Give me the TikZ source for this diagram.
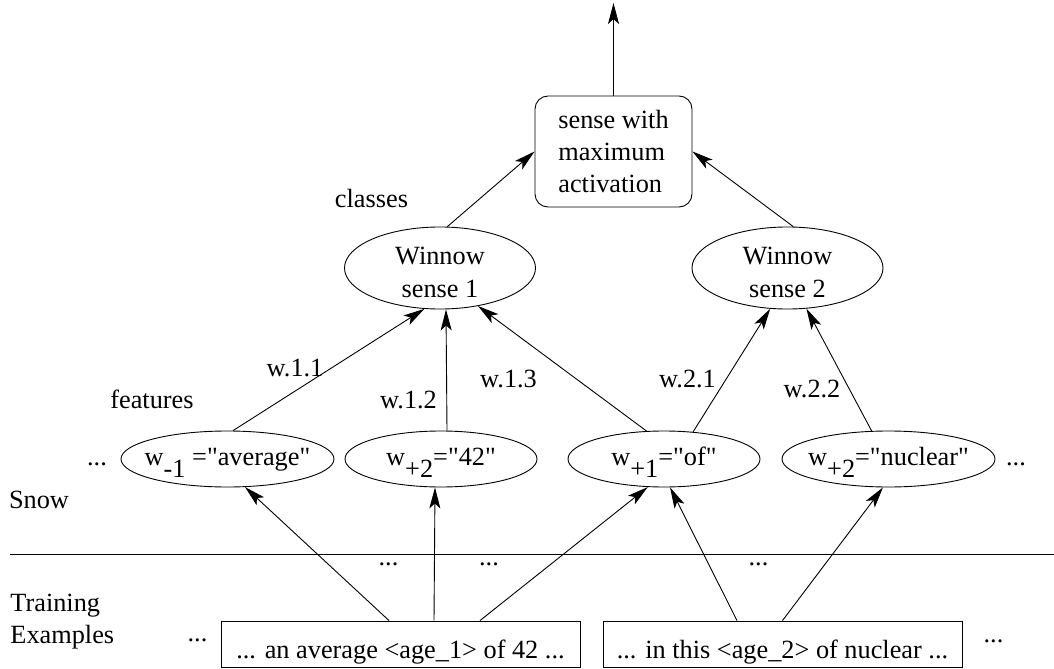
\documentclass[tikz,border=0pt]{standalone}
\usepackage{fontspec}
\newfontfamily\figfont{Liberation Serif}
\usepackage{tikz}
\usetikzlibrary{arrows.meta,shapes.geometric}

% w with a full-size lowered index
\newcommand{\wsub}[2]{\makebox[0pt]{w\smash{\raisebox{-12bp}{#1}}#2}}

\begin{document}
\begin{tikzpicture}[
    x=1bp, y=-1bp, line width=0.9bp,
    font=\figfont\fontsize{26.4pt}{32.5pt}\selectfont,
    arr/.style={-{Stealth[length=21bp,width=11bp,inset=5bp]}},
    feat/.style={ellipse, draw, inner sep=0pt, minimum height=56bp, text height=18bp, text depth=6bp},
    winnow/.style={ellipse, draw, inner sep=0pt, minimum width=191bp, minimum height=78bp, align=center, text height=58bp, text depth=0bp},
    sample/.style={rectangle, draw, minimum width=359bp, inner xsep=0pt, inner ysep=7bp, text height=30bp, text depth=2bp},
    lbl/.style={inner sep=0pt, anchor=base}
]

% page frame
\path[use as bounding box] (0,0) rectangle (1054,669);

\def\fy{459}   % feature row
\def\wy{268}   % winnow row
\def\ey{644}   % examples row

% output
\node[draw, rounded corners=13bp, minimum width=157bp, minimum height=111bp, align=left] (max) at (613.5,151.5) {sense with\\maximum\\activation};
\coordinate (out) at (613.5,3);
\draw[arr] (max.north) -- (out);

% classes
\node[winnow] (w1) at (440,\wy) {Winnow\\sense 1};
\node[winnow] (w2) at (787.5,\wy) {Winnow\\sense 2};
\draw[arr] (w1.80) -- (max.west);
\draw[arr] (w2.82) -- (max.east);

% features
\node[feat, minimum width=213bp] (f1) at (227.5,\fy) {\wsub{-1}{ ="average"}};
\node[feat, minimum width=192bp] (f2) at (441,\fy) {\wsub{+2}{="42"}};
\node[feat, minimum width=192bp] (f3) at (664,\fy) {\wsub{+1}{="of"}};
\node[feat, minimum width=213bp] (f4) at (888.5,\fy) {\wsub{+2}{="nuclear"}};

% weights
\draw[arr] (f1.79) -- (w1.-111);
\draw[arr] ([xshift=6bp]f2.north) -- ([xshift=6bp]w1.south);
\draw[arr] (f3.122) -- (w1.-45);
\draw[arr] (f3.43) -- (w2.-113);
\draw[arr] (f4.121) -- (w2.-65);

% training examples
\node[sample] (ex1) at (400.5,\ey) {... an average <age\_1> of 42 ...};
\node[sample] (ex2) at (782.5,\ey) {... in this <age\_2> of nuclear ...};
\draw[arr] ([xshift=-11.5bp]ex1.north) -- (f1.-58);
\draw[arr] ([xshift=33.5bp]ex1.north) -- ([xshift=-6bp]f2.south);
\draw[arr] ([xshift=79.5bp]ex1.north) -- (f3.-120);
\draw[arr] ([xshift=-45.5bp]ex2.north) -- (f3.-78);
\draw[arr] (ex2.north) -- (f4.-101);

% separator
\draw (10,554) -- (1054,554);

% labels
\node[lbl] (classes) at (371.5,208) {classes};
\node[lbl] (features) at (152,408) {features};
\node[lbl] (l111) at (295,376) {w.1.1};
\node[lbl] (l112) at (408.5,408) {w.1.2};
\node[lbl] (l113) at (508.5,387) {w.1.3};
\node[lbl] (l221) at (687.5,387) {w.2.1};
\node[lbl] (l222) at (812,397) {w.2.2};
\node[lbl] (snow) at (39,508) {Snow};
\node[anchor=west, inner sep=0pt, align=left] (train) at (10,621.5) {Training\\Examples};

% dots
\node[lbl] (dl) at (97,465) {...};
\node[lbl] (dr) at (1016,465) {...};
\node[lbl] (d1) at (388.5,565) {...};
\node[lbl] (d2) at (489,565) {...};
\node[lbl] (d3) at (758.5,565) {...};
\node[lbl] (d4) at (197.5,641) {...};
\node[lbl] (d5) at (993.5,642) {...};

\end{tikzpicture}
\end{document}
